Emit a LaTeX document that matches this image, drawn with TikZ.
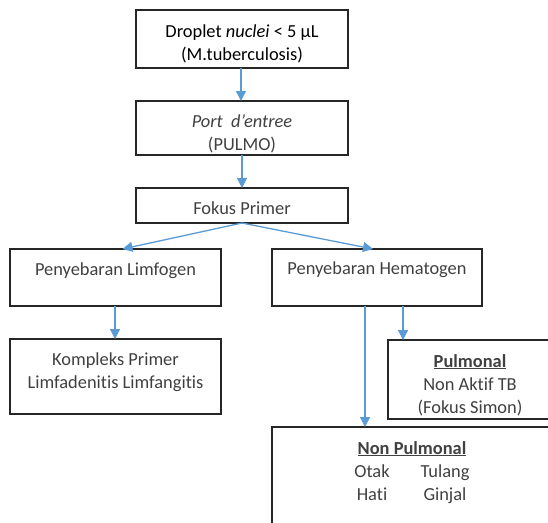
\documentclass[tikz,border=0pt]{standalone}
\usepackage{fontspec}
\setmainfont{Carlito}[Ligatures=NoCommon]
\usepackage{tikz}
\usetikzlibrary{arrows.meta, positioning}

\definecolor{txtgray}{RGB}{64,64,64}
\definecolor{arrblue}{RGB}{91,155,213}

\begin{document}
\begin{tikzpicture}[x=1pt, y=-1pt,
  box/.style={draw=black!85, line width=1.1pt, rectangle, align=center,
    inner sep=0pt, outer sep=0pt, text=txtgray,
    font=\fontsize{18.4}{23}\selectfont},
  arr/.style={draw=arrblue, line width=1.3pt, -{Triangle[length=10pt, width=10pt]}},
  node distance=33pt]

\useasboundingbox (0,0) rectangle (548,522);
\clip (0,0) rectangle (548,522);

\node [box, text=black, minimum width=212pt, minimum height=58pt, text height=42pt, text depth=0pt] at (242,39) (drop) {Droplet \textit{nuclei} < 5 µL\\(M.tuberculosis)};
\node [box, below=of drop, minimum width=212pt, minimum height=54pt, text height=44pt, text depth=0pt] (port) {\textit{Port\ \ d'entree}\\(PULMO)};
\node [box, below=of port, minimum width=212pt, minimum height=35pt, text height=17pt, text depth=0pt] (fokus) {Fokus Primer};

\node [box, minimum width=211pt, minimum height=57pt, text height=0pt, text depth=5pt] at (115.5,277.5) (limfo) {Penyebaran Limfogen};
\node [box, right=51pt of limfo, minimum width=210pt, minimum height=57pt, text height=0pt, text depth=7pt] (hemato) {Penyebaran Hematogen};
\node [box, below=of limfo, minimum width=211pt, minimum height=75pt, text height=23pt, text depth=0pt] (kompleks) {Kompleks Primer\\Limfadenitis Limfangitis};

\node [box, anchor=north west, minimum width=164pt, minimum height=79pt, text height=67pt, text depth=0pt] at (388,340) (pulmonal) {\underline{\textbf{Pulmonal}}\\Non Aktif TB\\(Fokus Simon)};
\node [box, anchor=north west, minimum width=280pt, minimum height=130pt, text height=16pt, text depth=0pt] at (272,427) (nonpul) {\underline{\textbf{Non Pulmonal}}\\\makebox[50pt]{Otak}\hspace{23pt}\makebox[50pt]{Tulang}\makebox[7pt]{}\\\makebox[50pt]{Hati}\hspace{23pt}\makebox[50pt]{Ginjal}\makebox[7pt]{}};

\path [arr] ([xshift=-1pt]drop.south) -- ([xshift=-1pt]port.north);
\path [arr] (port) -- (fokus);
\path [arr] (fokus.south) -- ([xshift=7pt]limfo.north);
\path [arr] (fokus.south) -- ([xshift=-4pt]hemato.north);
\path [arr] ([xshift=-0.5pt]limfo.south) -- ([xshift=-0.5pt]kompleks.north);
\path [arr] ([xshift=-12pt]hemato.south) -- ([xshift=-12pt]hemato.south |- nonpul.north);
\path [arr] ([xshift=26pt]hemato.south) -- ([xshift=26pt]hemato.south |- pulmonal.north);

\end{tikzpicture}
\end{document}
